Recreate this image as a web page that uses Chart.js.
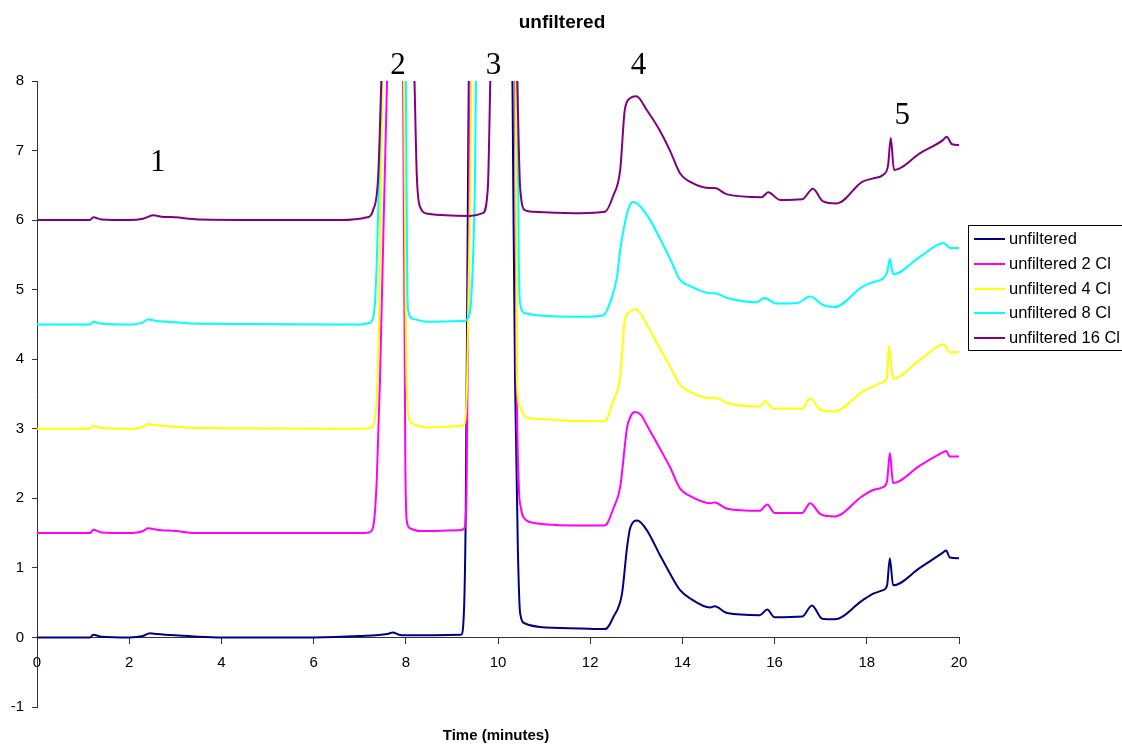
<!DOCTYPE html>
<html>
<head>
<meta charset="utf-8">
<script src="https://cdn.jsdelivr.net/npm/chart.js@4.4.0/dist/chart.umd.min.js"></script>
<style>
html,body{margin:0;padding:0;background:#fff;}
#wrap{width:1122px;height:745px;position:relative;}
</style>
</head>
<body>
<div id="wrap"><canvas id="c" width="1122" height="745"></canvas></div>
<script>
// ---- data (time in minutes, signal) ----
const seriesNames = ["unfiltered", "unfiltered 2 Cl", "unfiltered 4 Cl", "unfiltered 8 Cl", "unfiltered 16 Cl"];
const seriesColors = ["#000080", "#FF00FF", "#FFFF00", "#00FFFF", "#800080"];

const tUnf = [0,1.15,1.22,1.4,2.0,2.3,2.45,2.6,3.0,3.5,4.0,6.0,7.0,7.6,7.72,7.85,8.0,9.2,9.26,9.3,9.35,9.38,9.9,10.3,10.33,10.37,10.43,10.48,10.59,10.91,11.78,12.3,12.36,12.5,12.69,12.8,12.87,13.02,13.23,13.5,13.73,13.95,14.17,14.6,14.7,14.97,15.68,15.84,16.0,16.6,16.81,17.03,17.3,17.9,18.14,18.35,18.44,18.5,18.57,19.15,19.65,19.72,19.8,20];
const vUnf = [0,0,0.04,0.01,0,0.02,0.06,0.05,0.03,0.01,0,0,0.02,0.05,0.07,0.04,0.03,0.04,0.35,1.8,6.6,9,14,9,6.6,3.7,1.3,0.35,0.2,0.15,0.13,0.12,0.13,0.29,0.63,1.3,1.58,1.68,1.54,1.2,0.92,0.68,0.56,0.43,0.45,0.35,0.32,0.40,0.29,0.30,0.46,0.27,0.26,0.53,0.63,0.68,0.75,1.14,0.75,1.0,1.22,1.25,1.15,1.14];

const t2 = [0,1.15,1.22,1.4,2.0,2.3,2.4,2.6,3.0,3.5,7.0,7.2,7.29,7.37,7.44,7.52,7.6,7.77,7.94,7.99,8.02,8.09,8.31,9.17,9.28,9.32,9.37,9.4,9.9,10.36,10.4,10.45,10.5,10.55,10.76,11.78,12.3,12.36,12.5,12.65,12.8,12.87,12.97,13.1,13.23,13.5,13.73,13.95,14.17,14.6,14.7,14.97,15.68,15.84,16.0,16.6,16.77,17.0,17.3,17.9,18.14,18.35,18.44,18.5,18.57,19.15,19.65,19.72,19.8,20];
const v2 = [1.5,1.5,1.55,1.51,1.5,1.53,1.57,1.55,1.53,1.5,1.5,1.51,1.58,2.26,3.7,6.0,8.2,14,8.2,2.5,1.68,1.57,1.53,1.54,1.58,2.26,6,9,14,9,4,2.2,1.85,1.73,1.65,1.61,1.61,1.63,1.85,2.16,3.02,3.17,3.24,3.2,3.05,2.73,2.45,2.14,2.03,1.93,1.94,1.85,1.82,1.91,1.79,1.79,1.93,1.77,1.74,2.03,2.12,2.16,2.25,2.65,2.22,2.47,2.66,2.68,2.6,2.6];

const t4 = [0,1.15,1.22,1.4,2.0,2.3,2.4,2.6,3.0,3.5,7.0,7.2,7.29,7.37,7.42,7.5,7.75,7.96,8.0,8.05,8.13,8.45,9.17,9.28,9.33,9.4,9.43,9.9,10.38,10.41,10.48,10.59,10.91,11.78,12.3,12.36,12.5,12.65,12.75,12.85,12.97,13.1,13.23,13.5,13.73,13.95,14.17,14.6,14.7,14.97,15.68,15.8,15.96,16.6,16.77,17.0,17.3,17.9,18.14,18.35,18.44,18.48,18.57,19.15,19.67,19.8,20];
const v4 = [3,3,3.04,3.01,3.0,3.03,3.07,3.05,3.03,3.01,3.0,3.01,3.05,3.45,4.66,8.2,14,8.2,4.5,3.22,3.08,3.02,3.04,3.08,3.7,6.5,8.5,14,8.5,3.7,3.31,3.17,3.14,3.11,3.11,3.14,3.4,3.74,4.56,4.68,4.72,4.65,4.5,4.17,3.9,3.63,3.53,3.44,3.45,3.37,3.32,3.4,3.29,3.29,3.44,3.27,3.25,3.53,3.61,3.67,3.75,4.19,3.72,3.99,4.21,4.1,4.1];

const t8 = [0,1.15,1.22,1.4,2.0,2.3,2.4,2.6,3.0,3.5,7.0,7.2,7.27,7.33,7.38,7.48,7.74,8.0,8.03,8.05,8.16,8.45,9.24,9.35,9.43,9.5,9.53,9.95,10.42,10.45,10.48,10.59,10.91,11.78,12.28,12.45,12.58,12.65,12.75,12.85,12.93,13.05,13.3,13.5,13.73,13.95,14.17,14.6,14.7,14.97,15.62,15.77,16.05,16.5,16.77,17.05,17.3,17.9,18.14,18.35,18.44,18.5,18.57,19.15,19.67,19.8,20];
const v8 = [4.5,4.5,4.54,4.51,4.5,4.53,4.57,4.55,4.53,4.51,4.5,4.52,4.56,4.8,5.6,8.2,14,8.2,5.2,4.7,4.58,4.54,4.55,4.59,5.0,6.58,8.5,14,8.5,5.5,4.8,4.66,4.63,4.61,4.63,4.85,5.18,5.57,5.95,6.2,6.26,6.22,6.0,5.75,5.45,5.14,5.05,4.95,4.95,4.88,4.82,4.88,4.8,4.81,4.9,4.78,4.75,5.04,5.11,5.16,5.25,5.44,5.22,5.47,5.67,5.6,5.6];

const t16 = [0,1.15,1.22,1.4,2.0,2.3,2.52,2.7,3.0,3.5,6.57,7.16,7.29,7.4,7.48,7.83,8.18,8.24,8.31,8.48,9.39,9.67,9.78,9.84,10.12,10.41,10.48,10.59,10.76,11.78,12.32,12.5,12.65,12.75,12.86,13.0,13.23,13.5,13.73,13.95,14.17,14.6,14.7,14.97,15.72,15.86,16.12,16.6,16.83,17.05,17.35,17.9,18.14,18.35,18.46,18.52,18.59,19.15,19.65,19.73,19.85,20];
const v16 = [6.0,6.0,6.04,6.01,6.0,6.02,6.07,6.05,6.04,6.01,6.0,6.04,6.14,6.62,8.2,14,8.2,6.62,6.19,6.09,6.06,6.1,6.47,8.2,14,8.2,6.47,6.14,6.12,6.1,6.12,6.35,6.72,7.58,7.75,7.78,7.58,7.3,7.0,6.67,6.55,6.46,6.46,6.37,6.33,6.4,6.29,6.3,6.45,6.27,6.24,6.55,6.6,6.65,6.78,7.18,6.72,6.96,7.15,7.2,7.09,7.08];

const peakLabels = ["1","2","3","4","5"];
const peakLabelTimes = [2.62, 7.83, 9.9, 13.05, 18.77];
const peakLabelValues = [6.7, 8.1, 8.1, 8.1, 7.38];

const xTicks = [0,2,4,6,8,10,12,14,16,18,20];
const yTicks = [-1,0,1,2,3,4,5,6,7,8];

const allT = [tUnf,t2,t4,t8,t16];
const allV = [vUnf,v2,v4,v8,v16];

const datasets = seriesNames.map((name,i)=>({
  label: name,
  data: allT[i].map((t,j)=>({x:t,y:allV[i][j]})),
  borderColor: seriesColors[i],
  backgroundColor: seriesColors[i],
  borderWidth: 2,
  pointRadius: 0,
  fill: false,
  cubicInterpolationMode: 'monotone',
  order: seriesNames.length - i
}));

const overlay = {
  id:'overlay',
  afterDraw(chart){
    const ctx = chart.ctx;
    const xs = chart.scales.x, ys = chart.scales.y;
    ctx.save();
    ctx.fillStyle = '#000';
    ctx.textAlign = 'center';
    ctx.textBaseline = 'middle';
    ctx.font = 'bold 19px "Liberation Sans", Arial, sans-serif';
    ctx.fillText('unfiltered', 562, 23);
    ctx.font = 'bold 15px "Liberation Sans", Arial, sans-serif';
    ctx.fillText('Time (minutes)', 496, 736);
    // peak numbers
    ctx.font = '31px "Liberation Serif", "Times New Roman", serif';
    ctx.textBaseline = 'alphabetic';
    peakLabels.forEach((s,i)=>{
      ctx.fillText(s, xs.getPixelForValue(peakLabelTimes[i]), ys.getPixelForValue(peakLabelValues[i]));
    });
    // legend
    const lx = 968, ly = 225, lw = 160, lh = 125;
    ctx.strokeStyle = '#000';
    ctx.lineWidth = 1;
    ctx.strokeRect(lx+0.5, ly+0.5, lw, lh);
    ctx.font = '16.5px "Liberation Sans", Arial, sans-serif';
    ctx.textAlign = 'left';
    ctx.textBaseline = 'middle';
    const rows = [239, 264, 289, 313, 338];
    seriesNames.forEach((n,i)=>{
      ctx.strokeStyle = seriesColors[i];
      ctx.lineWidth = 2;
      ctx.beginPath();
      ctx.moveTo(974, rows[i]); ctx.lineTo(1005, rows[i]); ctx.stroke();
      ctx.fillStyle = '#000';
      ctx.fillText(n, 1009, rows[i]);
    });
    ctx.restore();
  }
};

new Chart(document.getElementById('c'), {
  type:'line',
  data:{datasets},
  options:{
    responsive:false,
    animation:false,
    events:[],
    layout:{padding:{top:81,bottom:38,left:0,right:163}},
    plugins:{legend:{display:false},title:{display:false},tooltip:{enabled:false}},
    scales:{
      x:{
        type:'linear', min:0, max:20,
        position:{y:0},
        afterBuildTicks(s){ s.ticks = xTicks.map(v=>({value:v})); },
        grid:{drawOnChartArea:false, drawTicks:true, tickLength:6, color:'#333'},
        border:{display:true, color:'#333', width:1},
        ticks:{color:'#000', font:{family:'"Liberation Sans", Arial, sans-serif', size:15}, padding:10, maxRotation:0, autoSkip:false}
      },
      y:{
        type:'linear', min:-1, max:8,
        afterBuildTicks(s){ s.ticks = yTicks.map(v=>({value:v})); },
        afterFit(s){ s.width = 37; },
        grid:{drawOnChartArea:false, drawTicks:true, tickLength:5, color:'#333'},
        border:{display:true, color:'#333', width:1},
        ticks:{color:'#000', font:{family:'"Liberation Sans", Arial, sans-serif', size:15}, padding:8, autoSkip:false}
      }
    }
  },
  plugins:[overlay]
});
</script>
</body>
</html>
